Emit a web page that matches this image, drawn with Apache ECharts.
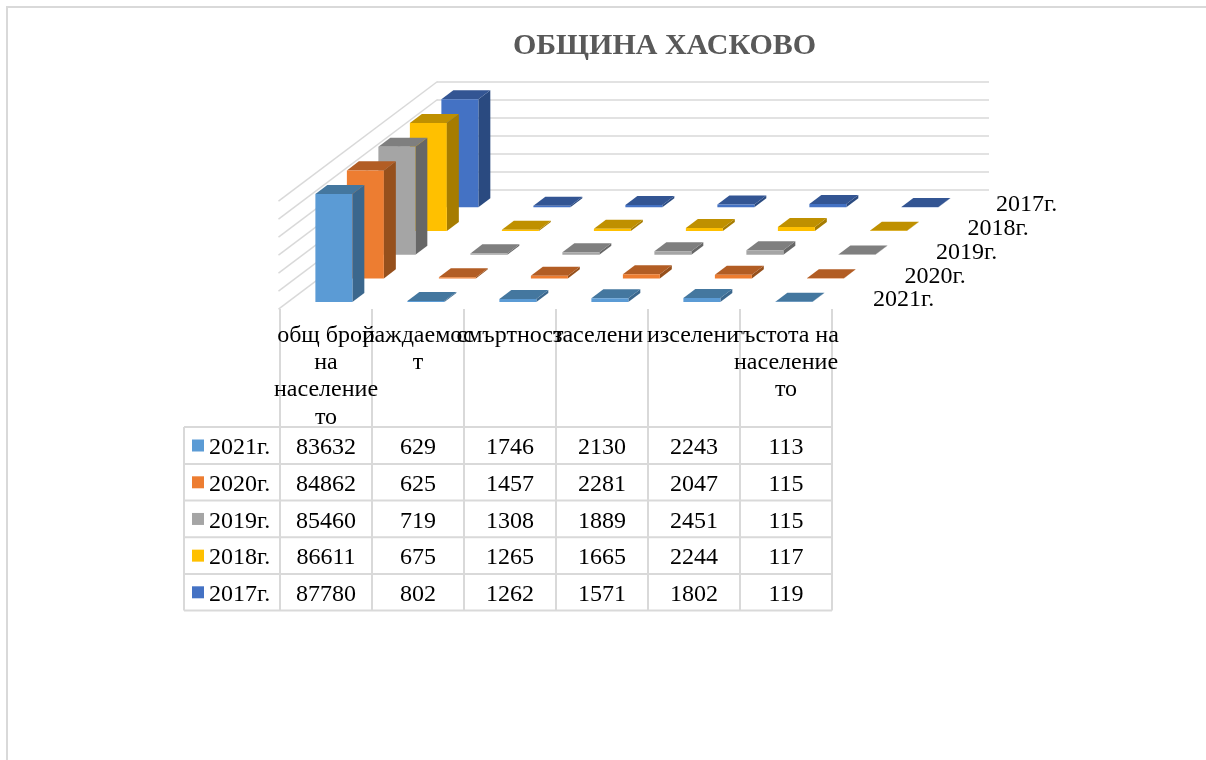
<!DOCTYPE html>
<html>
<head>
<meta charset="utf-8">
<style>html,body{margin:0;padding:0;background:#fff}#c{width:1206px;height:760px}</style>
<script src="https://cdn.jsdelivr.net/npm/echarts@6/dist/echarts.min.js"></script>
</head>
<body>
<div id="c"></div>
<script>
// ---- data ----
const titleText = 'ОБЩИНА ХАСКОВО';
const categories = ['общ брой на населението', 'раждаемост', 'смъртност', 'заселени', 'изселени', 'гъстота на населението'];
const headerLines = [
  ['общ брой', 'на', 'население', 'то'],
  ['раждаемос', 'т'],
  ['смъртност'],
  ['заселени'],
  ['изселени'],
  ['гъстота на', 'население', 'то']
];
const years = ['2021г.', '2020г.', '2019г.', '2018г.', '2017г.'];
const v2021 = [83632, 629, 1746, 2130, 2243, 113];
const v2020 = [84862, 625, 1457, 2281, 2047, 115];
const v2019 = [85460, 719, 1308, 1889, 2451, 115];
const v2018 = [86611, 675, 1265, 1665, 2244, 117];
const v2017 = [87780, 802, 1262, 1571, 1802, 119];
const rows = [v2021, v2020, v2019, v2018, v2017];
const axisTicks = [0, 10000, 20000, 30000, 40000, 50000, 60000];
const axisMax = 60000;
const axisStep = 10000;

// ---- styles ----
const faces = [
  { front: '#5b9bd5', top: '#44779f', side: '#3b678d' },
  { front: '#ed7d31', top: '#b25d24', side: '#96501c' },
  { front: '#a5a5a5', top: '#7f7f7f', side: '#676767' },
  { front: '#ffc000', top: '#bf9000', side: '#a67c00' },
  { front: '#4472c4', top: '#335593', side: '#2a4a80' }
];
const GRID = '#d9d9d9';
const SERIF = '"Liberation Serif","Times New Roman",serif';
const FONT = 24;
const DX = 31.5, DY = 23.7;            // oblique shift of one depth row
const BAR_W = 0.402, BAR_START = 0.25, BAR_DEPTH = 0.38;
const colX = [184, 280, 372, 464, 556, 648, 740, 832];
const rowY = [427, 464, 500.6, 537.3, 574, 610.6];
const headTop = 309;
const headerNudge = [0, 0, 0, -4, -1, 0];
const depthLabelNudge = [0, 0, 0, 0, -3];

function barRender(rowIndex) {
  return function (params, api) {
    const cat = api.value(0), val = Math.min(api.value(1), axisMax);
    const base = api.coord([cat, 0]), top = api.coord([cat, val]);
    const w = api.size([1, 0])[0] * BAR_W;
    const ox = DX * (rowIndex + BAR_START), oy = -DY * (rowIndex + BAR_START);
    const dx = DX * BAR_DEPTH, dy = -DY * BAR_DEPTH;
    const l = base[0] - w / 2 + ox, r = l + w, b = base[1] + oy, t = top[1] + oy;
    const f = faces[rowIndex];
    return { type: 'group', children: [
      { type: 'polygon', shape: { points: [[r, b], [r + dx, b + dy], [r + dx, t + dy], [r, t]] }, style: { fill: f.side } },
      { type: 'polygon', shape: { points: [[l, t], [r, t], [r + dx, t + dy], [l + dx, t + dy]] }, style: { fill: f.top } },
      { type: 'rect', shape: { x: l, y: t, width: w, height: Math.max(b - t, 0) }, style: { fill: f.front } }
    ] };
  };
}

const series = [];
// left wall grid lines
series.push({
  type: 'custom', xAxisIndex: 1, yAxisIndex: 1, silent: true, clip: false, z: 1,
  data: axisTicks.map(v => [0, v]),
  renderItem(params, api) {
    const p = api.coord([0, api.value(1)]);
    const half = api.size([1, 0])[0] / 2;
    const x = p[0] - half, y = p[1];
    return { type: 'line', shape: { x1: x - 1.5, y1: y + 1.1, x2: x + DX * 5, y2: y - DY * 5 }, style: { stroke: GRID, lineWidth: 1.5 } };
  }
});
// bars, back row first
for (let i = years.length - 1; i >= 0; i--) {
  series.push({
    type: 'custom', name: years[i], xAxisIndex: 1, yAxisIndex: 1, clip: false, z: 2,
    data: rows[i].map((v, c) => [c, v]),
    renderItem: barRender(i)
  });
}
// depth axis labels
series.push({
  type: 'custom', xAxisIndex: 1, yAxisIndex: 1, silent: true, clip: false, z: 3,
  data: years.map((y, i) => [categories.length - 1, 0, i]),
  renderItem(params, api) {
    const p = api.coord([api.value(0), 0]);
    const half = api.size([1, 0])[0] / 2;
    const i = api.value(2);
    return { type: 'text', x: p[0] + half + 41 + DX * i + depthLabelNudge[i], y: p[1] - 8 - DY * i,
      style: { text: years[i], font: FONT + 'px ' + SERIF, fill: '#000', textAlign: 'left', textVerticalAlign: 'middle' } };
  }
});

// ---- table as graphic elements ----
const g = [];
g.push({ type: 'rect', shape: { x: 7, y: 7, width: 1300, height: 900 }, style: { fill: 'none', stroke: GRID, lineWidth: 2 }, silent: true, z: 0 });
function hline(x1, x2, y) { g.push({ type: 'line', shape: { x1, y1: y, x2, y2: y }, style: { stroke: GRID, lineWidth: 2 }, silent: true }); }
function vline(x, y1, y2) { g.push({ type: 'line', shape: { x1: x, y1, x2: x, y2 }, style: { stroke: GRID, lineWidth: 2 }, silent: true }); }
function txt(t, x, y, align) {
  g.push({ type: 'text', x, y, style: { text: t, font: FONT + 'px ' + SERIF, fill: '#000', textAlign: align, textVerticalAlign: 'middle' }, silent: true, z: 5 });
}
rowY.forEach(y => hline(colX[0], colX[colX.length - 1], y));
colX.forEach((x, i) => vline(x, i === 0 ? rowY[0] : headTop, rowY[rowY.length - 1]));
const headerLineY = [335.5, 362.5, 390, 417.5];
headerLines.forEach((lines, c) => {
  const cx = (colX[c + 1] + colX[c + 2]) / 2 + headerNudge[c];
  lines.forEach((t, i) => txt(t, cx, headerLineY[i], 'center'));
});
years.forEach((y, r) => {
  const cy = (rowY[r] + rowY[r + 1]) / 2 + 0.5;
  g.push({ type: 'rect', shape: { x: 192, y: cy - 6.5, width: 12, height: 12 }, style: { fill: faces[r].front }, silent: true, z: 5 });
  txt(y, 209, cy + 2, 'left');
  rows[r].forEach((v, c) => txt(String(v), (colX[c + 1] + colX[c + 2]) / 2, cy + 2, 'center'));
});

const chart = echarts.init(document.getElementById('c'), null, { renderer: 'canvas' });
chart.setOption({
  animation: false,
  backgroundColor: '#fff',
  title: { text: titleText, left: 659.5, top: 26.5, textAlign: 'center',
    textStyle: { fontFamily: SERIF, fontSize: 30, fontWeight: 'bold', color: '#595959' } },
  grid: [
    { left: 437, top: 82, width: 552, height: 108 },   // back wall
    { left: 280, top: 200, width: 552, height: 108 }   // front plane
  ],
  xAxis: [
    { gridIndex: 0, type: 'category', data: categories, show: false },
    { gridIndex: 1, type: 'category', data: categories, show: false }
  ],
  yAxis: [
    { gridIndex: 0, type: 'value', min: 0, max: axisMax, interval: axisStep,
      axisLabel: { show: false }, axisLine: { show: false }, axisTick: { show: false },
      splitLine: { show: true, lineStyle: { color: GRID, width: 1.5 } } },
    { gridIndex: 1, type: 'value', min: 0, max: axisMax, interval: axisStep, show: false }
  ],
  graphic: { elements: g },
  series: series
});
</script>
</body>
</html>
